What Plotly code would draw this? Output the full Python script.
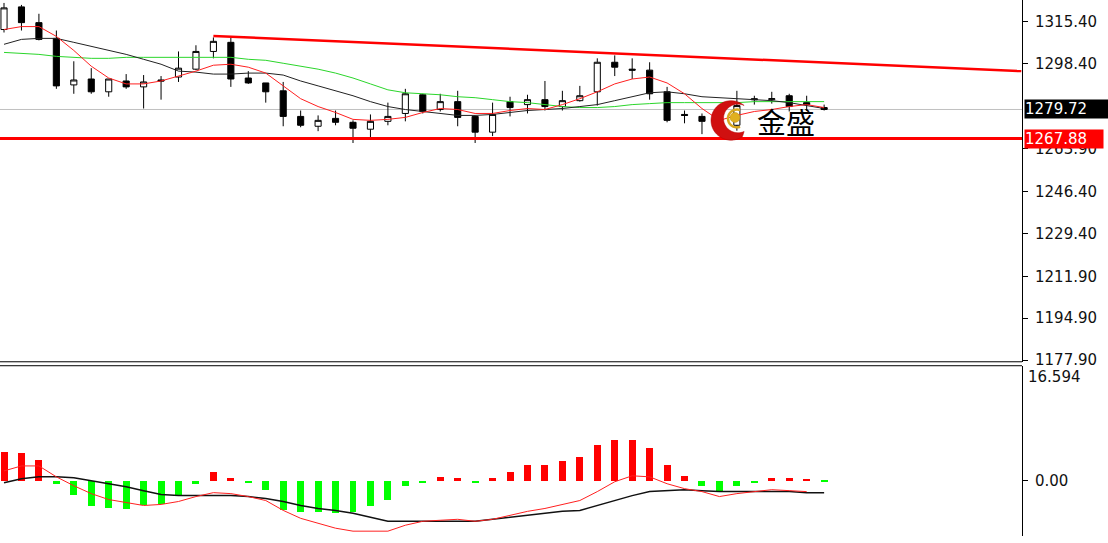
import math
import plotly.graph_objects as go

# ---------------- data ----------------
idx = list(range(48))
opens = [1312.2, 1321.4, 1315.0, 1308.6, 1289.7, 1292.1, 1286.9, 1291.3, 1288.9, 1291.7,
         1292.9, 1296.1, 1303.3, 1307.0, 1292.5, 1290.5, 1287.3, 1276.9, 1272.9, 1276.1,
         1274.5, 1271.7, 1274.9, 1278.1, 1285.7, 1279.7, 1282.9, 1276.9, 1270.5, 1282.9,
         1281.7, 1283.7, 1280.9, 1283.3, 1286.9, 1298.9, 1296.1, 1295.7, 1286.9, 1277.7,
         1276.9, 1276.1, 1273.3, 1284.1, 1283.7, 1285.3, 1282.5, 1280.5]
highs = [1323.0, 1322.2, 1318.6, 1311.8, 1299.3, 1296.5, 1292.1, 1294.1, 1293.7, 1293.3,
         1303.3, 1305.8, 1309.0, 1309.0, 1295.3, 1290.5, 1290.9, 1279.3, 1277.3, 1279.3,
         1275.3, 1277.7, 1282.5, 1288.1, 1286.1, 1286.1, 1287.3, 1277.3, 1282.5, 1284.9,
         1285.7, 1291.3, 1287.3, 1289.3, 1300.5, 1301.7, 1300.5, 1298.9, 1288.9, 1279.3,
         1278.1, 1278.1, 1287.3, 1285.3, 1286.9, 1286.1, 1285.3, 1281.7]
lows = [1311.0, 1311.8, 1307.8, 1288.1, 1286.1, 1286.1, 1284.9, 1288.1, 1280.1, 1283.7,
        1290.9, 1295.7, 1300.5, 1288.9, 1290.1, 1282.5, 1272.9, 1272.5, 1270.9, 1273.3,
        1266.1, 1268.1, 1273.3, 1274.9, 1278.1, 1278.9, 1272.9, 1266.1, 1268.9, 1276.9,
        1278.1, 1279.3, 1279.3, 1282.9, 1281.3, 1293.3, 1292.1, 1283.7, 1274.5, 1274.1,
        1269.7, 1270.9, 1271.1, 1281.7, 1282.1, 1278.9, 1279.3, 1279.3]
closes = [1321.0, 1315.0, 1308.2, 1289.3, 1291.7, 1286.9, 1292.1, 1288.9, 1290.9, 1291.3,
          1296.5, 1303.3, 1307.4, 1292.1, 1290.5, 1286.9, 1276.9, 1273.3, 1275.3, 1274.5,
          1272.1, 1274.9, 1276.9, 1286.1, 1278.9, 1282.9, 1276.5, 1270.5, 1277.7, 1280.5,
          1283.7, 1280.9, 1283.3, 1285.3, 1298.9, 1296.9, 1295.7, 1286.1, 1275.3, 1277.3,
          1274.9, 1272.9, 1281.3, 1283.7, 1284.1, 1280.9, 1281.7, 1279.72]

ma_fast = [1312.2, 1313.4, 1313.4, 1309.4, 1303.7, 1297.3, 1292.5, 1290.1, 1290.1, 1291.3,
           1293.3, 1295.3, 1297.7, 1298.1, 1296.9, 1294.5, 1289.3, 1284.1, 1280.9, 1278.5,
           1275.7, 1275.3, 1275.7, 1276.5, 1278.5, 1280.1, 1279.7, 1278.1, 1278.1, 1279.3,
           1280.1, 1279.7, 1281.7, 1284.1, 1286.9, 1290.1, 1292.1, 1292.9, 1290.5, 1286.1,
           1280.1, 1275.3, 1277.3, 1278.9, 1279.7, 1280.9, 1281.7, 1280.5]
ma_mid = [1306.2, 1308.2, 1308.6, 1308.6, 1307.0, 1305.4, 1303.8, 1302.1, 1300.1, 1298.1,
          1295.3, 1294.9, 1294.1, 1294.1, 1294.5, 1294.5, 1293.7, 1291.3, 1289.3, 1287.3,
          1285.3, 1282.9, 1280.9, 1279.7, 1278.9, 1278.1, 1277.3, 1277.3, 1277.7, 1278.5,
          1279.3, 1279.7, 1280.1, 1280.9, 1281.7, 1283.3, 1284.9, 1286.5, 1286.9, 1286.1,
          1284.9, 1284.5, 1284.1, 1283.7, 1283.3, 1282.5, 1281.3, 1280.1]
ma_slow = [1302.9, 1302.5, 1302.1, 1301.3, 1300.9, 1300.5, 1300.5, 1300.9, 1300.9, 1300.9,
           1300.9, 1300.9, 1300.9, 1300.9, 1300.1, 1299.7, 1298.5, 1297.3, 1296.1, 1294.5,
           1292.5, 1290.1, 1287.7, 1286.5, 1286.1, 1285.7, 1284.9, 1284.5, 1283.7, 1282.9,
           1282.5, 1281.7, 1280.9, 1280.5, 1280.5, 1280.9, 1281.7, 1282.1, 1282.5, 1282.5,
           1282.5, 1282.5, 1282.5, 1282.9, 1282.9, 1282.9, 1282.9, 1282.9]

macd_hist = [4.15, 4.0, 3.0, -0.43, -2.15, -3.72, -4.0, -4.15, -3.58, -3.43,
             -2.15, -0.43, 1.29, 0.3, -0.3, -1.43, -4.29, -4.58, -4.58, -4.72,
             -4.58, -3.72, -2.86, -0.86, -0.3, 0.57, 0.43, -0.3, 0.43, 1.29,
             2.29, 2.29, 2.86, 3.43, 5.15, 5.87, 5.87, 4.72, 2.29, 0.72,
             -0.72, -1.57, -0.86, -0.3, 0.43, 0.3, 0.25, -0.25]
macd_line = [-0.29, 0.29, 0.57, 0.57, 0.43, 0.0, -0.43, -0.86, -1.43, -2.0,
             -2.15, -2.15, -2.15, -2.15, -2.29, -2.58, -3.0, -3.58, -4.01, -4.29,
             -4.72, -5.29, -5.87, -5.87, -5.87, -5.87, -5.87, -5.87, -5.58, -5.29,
             -5.01, -4.72, -4.43, -4.29, -3.58, -2.86, -2.15, -1.57, -1.43, -1.29,
             -1.43, -1.57, -1.57, -1.57, -1.57, -1.57, -1.72, -1.72]
macd_signal = [1.43, 2.15, 2.15, 0.57, -0.72, -1.86, -2.72, -3.15, -3.58, -3.43,
               -3.0, -2.29, -1.72, -1.86, -2.29, -2.86, -4.29, -5.44, -6.15, -6.87,
               -7.30, -7.30, -7.30, -6.44, -5.87, -5.72, -5.58, -5.87, -5.58, -5.01,
               -4.43, -4.01, -3.43, -2.86, -1.57, -0.14, 0.72, 0.57, -0.43, -1.14,
               -1.57, -2.29, -1.86, -1.57, -1.29, -1.43, -1.57, None]

price_ticks = [1315.40, 1298.40, 1263.90, 1246.40, 1229.40, 1211.90, 1194.90, 1177.90]
trend_x = [12, 58.3]
trend_y = [1309.6, 1295.3]
support_level = 1267.88
last_price = 1279.72
macd_max = 16.594
logo_text = "金盛"

# ---------------- figure ----------------
W, H = 1108, 543
PLOT_W = 1022
FONT = "DejaVu Sans"
TSIZE = 15

def px_x(p):
    return p / PLOT_W

def px_y(p):
    return 1 - p / H

fig = go.Figure()

fig.add_trace(go.Scatter(x=idx, y=ma_slow, mode="lines", line=dict(color="#2bd62b", width=1),
                         xaxis="x", yaxis="y", hoverinfo="skip"))
fig.add_trace(go.Scatter(x=idx, y=ma_mid, mode="lines", line=dict(color="#222222", width=1),
                         xaxis="x", yaxis="y", hoverinfo="skip"))
fig.add_trace(go.Candlestick(
    x=idx, open=opens, high=highs, low=lows, close=closes,
    increasing=dict(fillcolor="#ffffff", line=dict(color="#000000", width=1)),
    decreasing=dict(fillcolor="#000000", line=dict(color="#000000", width=1)),
    whiskerwidth=0, xaxis="x", yaxis="y"))
fig.add_trace(go.Scatter(x=idx, y=ma_fast, mode="lines", line=dict(color="#ff2020", width=1),
                         xaxis="x", yaxis="y", hoverinfo="skip"))
fig.add_trace(go.Scatter(x=trend_x, y=trend_y, mode="lines", line=dict(color="#ff0000", width=2.5),
                         xaxis="x", yaxis="y", hoverinfo="skip"))

fig.add_trace(go.Bar(x=idx, y=macd_hist, width=0.4,
                     marker=dict(color=["#ff0000" if v > 0 else "#00ff00" for v in macd_hist], line=dict(width=0)),
                     xaxis="x2", yaxis="y2"))
fig.add_trace(go.Scatter(x=idx, y=macd_line, mode="lines", line=dict(color="#111111", width=1.5),
                         xaxis="x2", yaxis="y2", hoverinfo="skip"))
fig.add_trace(go.Scatter(x=idx, y=macd_signal, mode="lines", line=dict(color="#ff2020", width=1),
                         xaxis="x2", yaxis="y2", hoverinfo="skip"))

main_dom = [1 - 367 / H, 1]
macd_dom = [0, 1 - 371 / H]
xr = [-0.23, 58.34]

fig.update_layout(
    width=W, height=H,
    margin=dict(l=0, r=W - PLOT_W, t=0, b=0),
    paper_bgcolor="white", plot_bgcolor="white",
    showlegend=False, boxgap=0.5, bargap=0,
    font=dict(family=FONT, size=TSIZE, color="#111111"),
    xaxis=dict(domain=[0, 1], range=xr, visible=False, rangeslider=dict(visible=False), anchor="y"),
    xaxis2=dict(domain=[0, 1], range=xr, visible=False, anchor="y2", matches="x"),
    yaxis=dict(domain=main_dom, range=[1177.0, 1324.2], side="right", anchor="x",
               showline=True, linecolor="#000000", linewidth=1, mirror=False,
               ticks="outside", ticklen=5, tickcolor="#000000", showgrid=False, zeroline=False,
               tickvals=price_ticks, ticktext=[f"{v:.2f}" for v in price_ticks],
               tickfont=dict(family=FONT, size=TSIZE, color="#111111"), ticklabelstandoff=4),
    yaxis2=dict(domain=macd_dom, range=[-8.0, macd_max], side="right", anchor="x2",
                showline=True, linecolor="#000000", linewidth=1,
                ticks="outside", ticklen=5, tickcolor="#000000", showgrid=False, zeroline=False,
                tickvals=[0], ticktext=["0.00"],
                tickfont=dict(family=FONT, size=TSIZE, color="#111111"), ticklabelstandoff=4),
)

fig.add_shape(type="line", xref="paper", yref="y", x0=0, x1=1, y0=last_price, y1=last_price,
              line=dict(color="#c0c0c0", width=1), layer="below")
fig.add_shape(type="line", xref="paper", yref="y", x0=0, x1=1, y0=support_level, y1=support_level,
              line=dict(color="#ff0000", width=3))

for py in (366.5, 370.5):
    fig.add_shape(type="line", xref="paper", yref="paper", x0=0, x1=1.0,
                  y0=px_y(py), y1=px_y(py), line=dict(color="#000000", width=1))

fig.add_annotation(x=1.0, xref="paper", y=last_price, yref="y", xanchor="left", yanchor="middle",
                   xshift=2, text=f"{last_price:.2f}", showarrow=False, bgcolor="#000000",
                   width=84, align="left",
                   font=dict(family=FONT, size=TSIZE, color="#ffffff"), borderpad=0)
fig.add_annotation(x=1.0, xref="paper", y=support_level, yref="y", xanchor="left", yanchor="middle",
                   xshift=2, text=f"{support_level:.2f}", showarrow=False, bgcolor="#ff0000",
                   width=78, align="left",
                   font=dict(family=FONT, size=TSIZE, color="#ffffff"), borderpad=0)
fig.add_annotation(x=1.0, xref="paper", y=px_y(382), yref="paper", xanchor="left", yanchor="middle",
                   xshift=4, text=f"{macd_max:.3f}", showarrow=False,
                   font=dict(family=FONT, size=TSIZE, color="#111111"))

def circ_pts(cx, cy, r, a0, a1, n=40):
    pts = []
    for i in range(n + 1):
        a = math.radians(a0 + (a1 - a0) * i / n)
        pts.append((cx + r * math.cos(a), cy + r * math.sin(a)))
    return pts

outer = circ_pts(731, 122, 20, 55, 305)
inner = circ_pts(738, 120, 14.5, 295, 65)
path = "M " + " L ".join(f"{px_x(x):.5f},{px_y(y):.5f}" for x, y in outer + inner) + " Z"
fig.add_shape(type="path", xref="paper", yref="paper", path=path,
              fillcolor="#d01010", line=dict(color="#b00000", width=0.5))
arc = circ_pts(737, 120, 9, 70, 290)
path2 = "M " + " L ".join(f"{px_x(x):.5f},{px_y(y):.5f}" for x, y in arc)
fig.add_shape(type="path", xref="paper", yref="paper", path=path2,
              line=dict(color="#d8a820", width=2.5))
fig.add_shape(type="circle", xref="paper", yref="paper",
              x0=px_x(730), x1=px_x(740), y0=px_y(124), y1=px_y(114),
              fillcolor="#e0b020", line=dict(color="#c09010", width=0.5))
fig.add_annotation(x=px_x(786), y=px_y(123), xref="paper", yref="paper", text=logo_text,
                   showarrow=False, xanchor="center", yanchor="middle",
                   font=dict(family="Noto Sans CJK SC", size=29, color="#000000"))

fig.write_html("out.html", config={"displayModeBar": False},
               post_script="document.body.style.margin='0';"
                           "document.documentElement.style.overflow='hidden';"
                           "document.body.style.overflow='hidden';")
